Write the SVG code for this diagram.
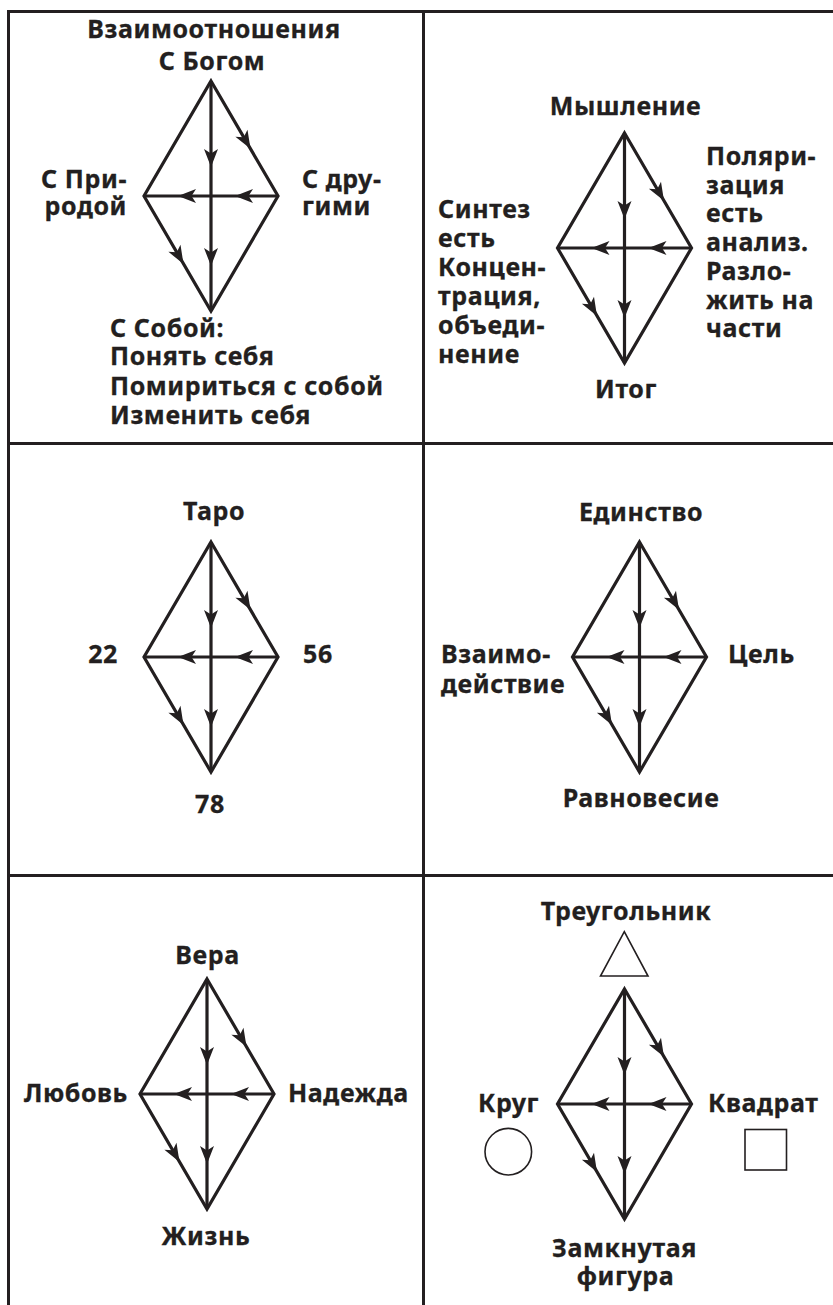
<svg xmlns="http://www.w3.org/2000/svg" xmlns:xlink="http://www.w3.org/1999/xlink" width="833" height="1305" viewBox="0 0 833 1305">
<style>
  .grid { stroke: #231f20; stroke-width: 3; fill: none; }
  .edge { stroke: #231f20; stroke-width: 3.2; fill: none; stroke-linejoin: miter; }
  .arr { stroke: none; fill: none; marker-end: url(#ah); }
  .shape { stroke: #231f20; stroke-width: 1.6; fill: #fff; }
  text { font-family: "Noto Sans", "Open Sans", sans-serif; font-weight: bold; font-size: 25px; letter-spacing: 0.6px; fill: #231f20; stroke: #231f20; stroke-width: 0.3; }
  .m { text-anchor: middle; }
  .e { text-anchor: end; }
</style>
<defs>
  <marker id="ah" markerUnits="userSpaceOnUse" markerWidth="22" markerHeight="18" viewBox="-20 -9 22 18" refX="0" refY="0" orient="auto" overflow="visible">
    <path d="M0,0 L-18,-7 L-13.5,0 L-18,7 Z" fill="#231f20"/>
  </marker>
  <g id="diamond">
    <path class="edge" d="M0,-115 L67,0 L0,115 L-67,0 Z"/>
    <path class="edge" d="M0,-115 V115 M-67,0 H67"/>
    <path class="arr" d="M0,-115 L0,-29"/>
    <path class="arr" d="M0,0 L0,70"/>
    <path class="arr" d="M67,0 L24,0"/>
    <path class="arr" d="M0,0 L-33,0"/>
    <path class="arr" d="M0,-115 L39.5,-47.2"/>
    <path class="arr" d="M-67,0 L-27.5,67.9"/>
  </g>
</defs>
<rect width="833" height="1305" fill="#fff"/>
<g id="grid">
  <path class="grid" d="M8.5,1305 V11.5 H833"/>
  <path class="grid" d="M423.5,11.5 V1305"/>
  <path class="grid" d="M8.5,443.5 H833"/>
  <path class="grid" d="M8.5,875.5 H833"/>
</g>
<g id="connectors">
  <use href="#diamond" transform="translate(211,196)"/>
  <use href="#diamond" transform="translate(624.5,248)"/>
  <use href="#diamond" transform="translate(211,657)"/>
  <use href="#diamond" transform="translate(639.5,657)"/>
  <use href="#diamond" transform="translate(207,1094)"/>
  <use href="#diamond" transform="translate(624.5,1104)"/>
</g>
<g id="p1-top"><text class="m" x="214" y="38">Взаимоотношения</text><text class="m" x="212" y="70">С Богом</text></g>
<g id="p1-left"><text class="e" x="127" y="188">С При-</text><text class="e" x="127" y="215">родой</text></g>
<g id="p1-right"><text x="302" y="188">С дру-</text><text x="302" y="215">гими</text></g>
<g id="p1-bottom"><text x="110" y="337">С Собой:</text><text x="110" y="365">Понять себя</text><text x="110" y="395">Помириться с собой</text><text x="110" y="424">Изменить себя</text></g>
<g id="p2-top"><text class="m" x="625.5" y="115">Мышление</text></g>
<g id="p2-right"><text x="706" y="165">Поляри-</text><text x="706" y="193.7">зация</text><text x="706" y="222.4">есть</text><text x="706" y="251">анализ.</text><text x="706" y="279.8">Разло-</text><text x="706" y="308.5">жить на</text><text x="706" y="337.2">части</text></g>
<g id="p2-left"><text x="438" y="218.3">Синтез</text><text x="438" y="247.2">есть</text><text x="438" y="276.1">Концен-</text><text x="438" y="305">трация,</text><text x="438" y="333.9">объеди-</text><text x="438" y="362.8">нение</text></g>
<g id="p2-bottom"><text class="m" x="626" y="398">Итог</text></g>
<g id="p3-top"><text class="m" x="214" y="520">Таро</text></g>
<g id="p3-left"><text class="e" x="118" y="663">22</text></g>
<g id="p3-right"><text x="303" y="663">56</text></g>
<g id="p3-bottom"><text class="m" x="210" y="813">78</text></g>
<g id="p4-top"><text class="m" x="641" y="521">Единство</text></g>
<g id="p4-left"><text x="441" y="663">Взаимо-</text><text x="441" y="693">действие</text></g>
<g id="p4-right"><text x="728" y="663">Цель</text></g>
<g id="p4-bottom"><text class="m" x="641" y="807">Равновесие</text></g>
<g id="p5-top"><text class="m" x="207.5" y="964">Вера</text></g>
<g id="p5-left"><text class="e" x="128" y="1102">Любовь</text></g>
<g id="p5-right"><text x="288" y="1102">Надежда</text></g>
<g id="p5-bottom"><text class="m" x="206" y="1245">Жизнь</text></g>
<g id="p6-top"><text class="m" x="626" y="920">Треугольник</text><path class="shape" d="M624.3,931.7 L648,976 L600.5,976 Z"/></g>
<g id="p6-left"><text x="478" y="1112">Круг</text><circle class="shape" cx="508.3" cy="1151.7" r="23.3"/></g>
<g id="p6-right"><text x="708" y="1112">Квадрат</text><rect class="shape" x="745" y="1129.5" width="41.5" height="40.5"/></g>
<g id="p6-bottom"><text class="m" x="624.5" y="1257">Замкнутая</text><text class="m" x="625.5" y="1285">фигура</text></g>
</svg>
